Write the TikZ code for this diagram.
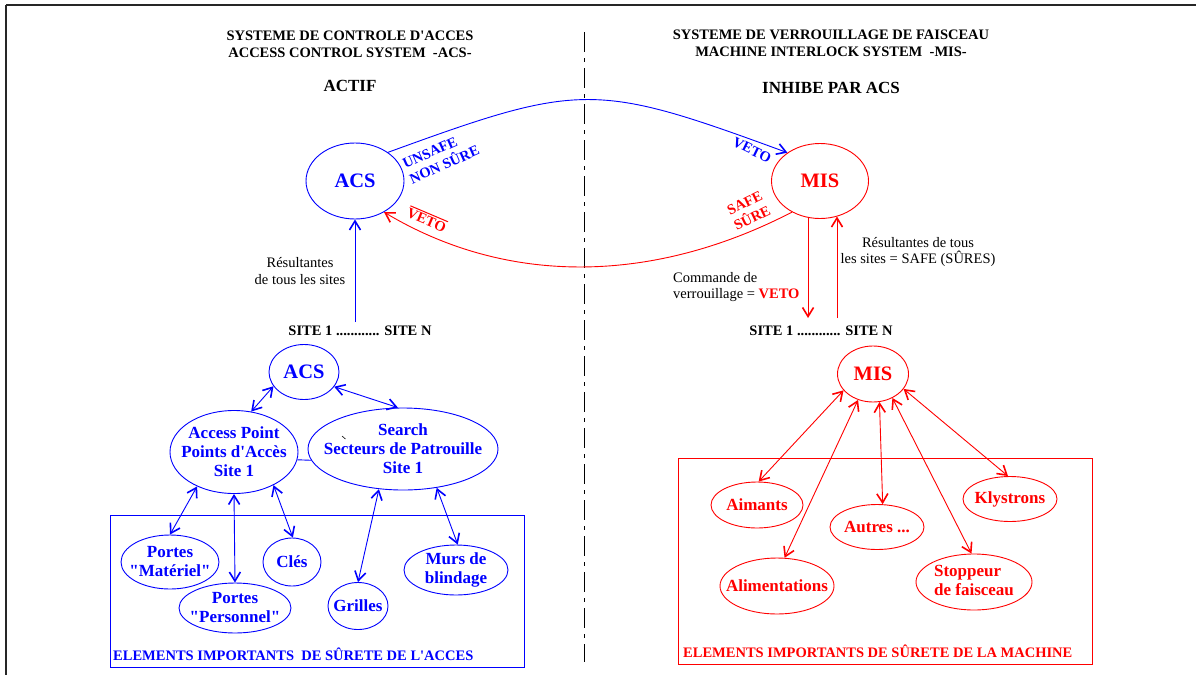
\documentclass[tikz,border=0pt]{standalone}
\usepackage{fontspec}
\setmainfont{Liberation Serif}[Ligatures=TeXOff]
\usetikzlibrary{arrows.meta,shapes.geometric}
\tikzset{
  ln/.style={line width=0.9pt},
  ell/.style n args={3}{ellipse, draw, ln, inner sep=0pt, minimum width=#1, minimum height=#2, label={[lab]center:{#3}}},
  lab/.style={align=center, inner sep=0pt, font=\fontsize{17}{19}\selectfont\bfseries},
  big/.style={font=\fontsize{20.5}{22}\selectfont\bfseries, inner sep=0pt},
  ttl/.style={align=center, inner sep=0pt, font=\fontsize{14.5}{17}\selectfont\bfseries},
  hd/.style={align=center, inner sep=0pt, font=\fontsize{17}{19}\selectfont\bfseries},
  rg/.style={align=center, inner sep=0pt, font=\fontsize{14.5}{16.5}\selectfont},
  tip/.style={ln, >={Straight Barb[length=9pt,width=11pt,line width=1.6pt]}},
}
\begin{document}
\begin{tikzpicture}[x=1pt,y=-1pt]
\useasboundingbox (0,0) rectangle (1196,675);
% frame
\draw[line width=2pt, black!85] (6,5) -- (1196,5);
\draw[line width=2pt, black!85] (6,5) -- (6,675);
% separator
\draw[line width=1pt, dash pattern=on 20pt off 6pt on 4pt off 6pt] (584,32) -- (584,662);

% titles
\node[ttl] (t1) at (350,44.5) {SYSTEME DE CONTROLE D'ACCES\\ACCESS CONTROL SYSTEM \ -ACS-};
\node[ttl] (t2) at (831,43.5) {SYSTEME DE VERROUILLAGE DE FAISCEAU\\MACHINE INTERLOCK SYSTEM \ -MIS-};
\node[hd] (actif) at (350,86) {ACTIF};
\node[hd] (inhibe) at (831,88) {INHIBE PAR ACS};

% top nodes
\node[ellipse, draw=blue, ln, inner sep=0pt, minimum width=98, minimum height=76, text=blue, big] (acsT) at (355,181) {ACS};
\node[ellipse, draw=red, ln, inner sep=0pt, minimum width=97, minimum height=75, text=red, big] (misT) at (820,181) {MIS};

% arcs
\draw[tip, blue, ->] (acsT.41) .. controls (581,82) and (595,82) .. (misT.139);
\draw[tip, red, ->] (misT.228) .. controls (657,282) and (511,288) .. (acsT.313);
\node[ttl, blue, align=left, rotate=24] (uns) at (441,157) {UNSAFE\\NON SÛRE};
\node[ttl, blue, rotate=-26] (vetob) at (752,150) {VETO};
\node[ttl, red, rotate=26] (safe) at (748.5,210.5) {SAFE\\SÛRE};
\node[ttl, red, rotate=-23] (vetor) at (427,219) {\leavevmode\vbox{\hrule height 1pt\kern 1.5pt\hbox{VETO}}};

% site lines
\node[ttl] (siteL) at (360,331) {SITE 1 ............ SITE N};
\node[ttl] (siteR) at (821,331) {SITE 1 ............ SITE N};
\coordinate (cl) at (355,322);
\draw[tip, blue, ->] (cl) -- (acsT.south);
\node[rg] (resL) at (300,271) {Résultantes\\de tous les sites};
\coordinate (cd) at (808,318);
\coordinate (cu) at (837,318);
\draw[tip, red, ->] (misT.252) -- (misT.252 |- cd);
\draw[tip, red, ->] (cu) -- (cu |- misT.296);
\node[rg, align=left, anchor=west] (cmd) at (673,287) {Commande de\\ verrouillage = \textcolor{red}{\bfseries VETO}};
\node[rg] (resR) at (918,252) {Résultantes de tous\\les sites = SAFE (SÛRES)};

% ---- bottom left (blue)
\draw[blue, ln] (110,515) rectangle (524,667);
\node[blue, anchor=base west, inner sep=0pt, font=\fontsize{14.5}{17}\selectfont\bfseries] (elA) at (113,660) {ELEMENTS IMPORTANTS \ DE SÛRETE DE L'ACCES};
\begin{scope}[blue, every label/.append style={text=blue}]
\node[ellipse, draw, ln, inner sep=0pt, minimum width=70, minimum height=55, big] (acsB) at (304,372) {ACS};
\node[ell={128}{83}{Access Point\\Points d'Accès\\Site 1}] (ap) at (234,452) {};
\node[ell={190}{82}{Search\\Secteurs de Patrouille\\Site 1}] (srch) at (403,449) {};
\node[ell={98}{54}{Portes\\"Matériel"}] (pm) at (170,562) {};
\node[ell={112}{50}{Portes\\"Personnel"}] (pp) at (235,608) {};
\node[ell={58}{48}{Clés}] (cles) at (292,562) {};
\node[ell={60}{47}{Grilles}] (gril) at (358,606) {};
\node[ell={104}{50}{Murs de\\blindage}] (murs) at (456,570) {};
\draw[ln] (ap.-7) -- (srch.187);
\draw[tip, <->] (acsB.205) -- (ap.67);
\draw[tip, <->] (acsB.334) -- (srch.97);
\draw[tip, <->] (ap.223) -- (pm.90);
\draw[tip, <->] (ap.270) -- (pp.90);
\draw[tip, <->] (ap.320) -- (cles.88);
\draw[tip, <->] (srch.239) -- (gril.90);
\draw[tip, <->] (srch.311) -- (murs.86);
\end{scope}
\draw[black, line width=0.6pt] (342,436) -- (345.5,439);

% ---- bottom right (red)
\draw[red, ln] (678,458) rectangle (1092,664);
\node[red, anchor=base west, inner sep=0pt, font=\fontsize{14.5}{17}\selectfont\bfseries] (elM) at (683,657) {ELEMENTS IMPORTANTS DE SÛRETE DE LA MACHINE};
\begin{scope}[red, every label/.append style={text=red}]
\node[ellipse, draw, ln, inner sep=0pt, minimum width=71, minimum height=56, big] (misB) at (873,374) {MIS};
\node[ell={92}{46}{Aimants}] (aim) at (757,505) {};
\node[ell={114}{56}{Alimentations}] (alim) at (777,586) {};
\node[ell={94}{45}{Autres ...}] (autr) at (877,527) {};
\node[ell={116}{56}{\begin{tabular}{@{}l@{}}Stoppeur\\de faisceau\end{tabular}}] (stop) at (974,582) {};
\node[ell={94}{45}{Klystrons}] (kly) at (1010,499) {};
\draw[tip, <->] (misB.209) -- (aim.86);
\draw[tip, <->] (misB.240) -- (alim.75);
\draw[tip, <->] (misB.283) -- (autr.76);
\draw[tip, <->] (misB.309) -- (stop.95);
\draw[tip, <->] (misB.334) -- (kly.95);
\end{scope}
\end{tikzpicture}
\end{document}
